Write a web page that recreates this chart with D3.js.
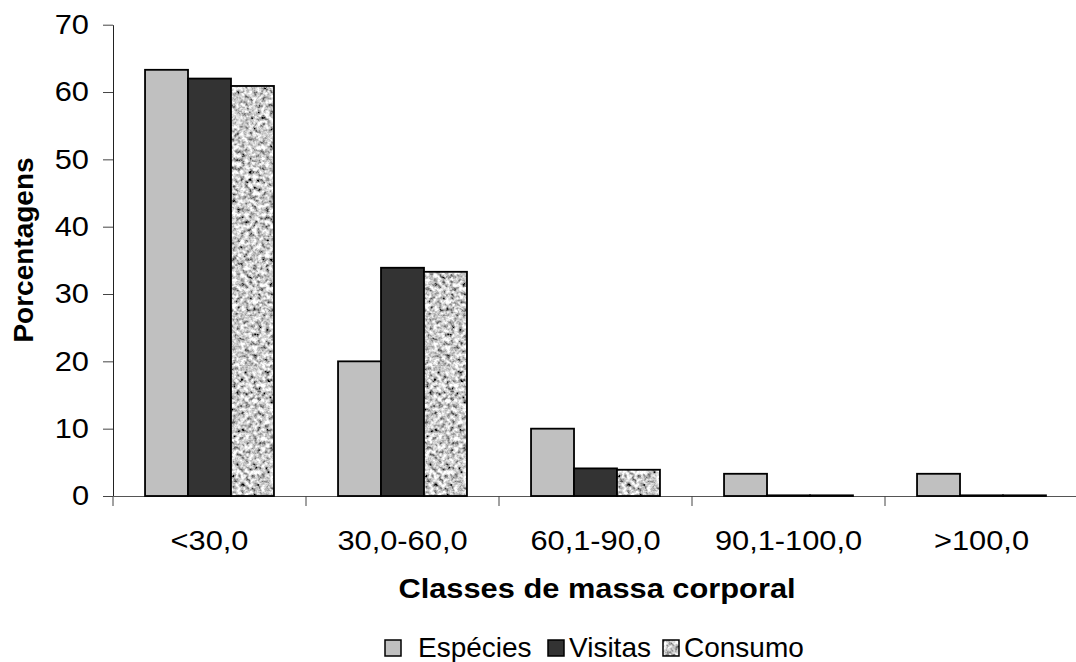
<!DOCTYPE html>
<html><head><meta charset="utf-8">
<script src="https://cdn.jsdelivr.net/npm/d3@7"></script>
<style>body{margin:0;background:#fff}svg{display:block}text{font-family:"Liberation Sans",Arial,sans-serif}</style>
</head><body><svg id="c" width="1076" height="662"></svg>
<script>
const categories = ["<30,0","30,0-60,0","60,1-90,0","90,1-100,0",">100,0"];
const seriesNames = ["Espécies","Visitas","Consumo"];
const especies = [63.3, 20.0, 10.0, 3.3, 3.3];
const visitas  = [62.0, 33.9, 4.1, 0.1, 0.1];
const consumo  = [60.9, 33.3, 3.9, 0.1, 0.1];
const yTicks = [0,10,20,30,40,50,60,70];

const svg = d3.select("#c");
const defs = svg.append("defs");
const f = defs.append("filter").attr("id","noise").attr("x",0).attr("y",0).attr("width","100%").attr("height","100%");
f.append("feTurbulence").attr("type","fractalNoise").attr("baseFrequency",0.24).attr("numOctaves",3).attr("seed",7).attr("result","t");
f.append("feColorMatrix").attr("in","t").attr("type","matrix")
 .attr("values","2.0 0 0 0 -0.4  2.0 0 0 0 -0.4  2.0 0 0 0 -0.4  0 0 0 0 1").attr("result","g");
f.append("feComposite").attr("in","g").attr("in2","SourceGraphic").attr("operator","in");

const x0 = d3.scaleBand().domain(categories).range([113,1078]).paddingInner(0.332).paddingOuter(0.166);
const x1 = d3.scaleBand().domain(seriesNames).range([0,x0.bandwidth()]);
const y = d3.scaleLinear().domain([0,70]).range([496,24.7]);
const fills = {"Espécies":"#c0c0c0","Visitas":"#333333","Consumo":"#a8a8a8"};
const vals = {"Espécies":especies,"Visitas":visitas,"Consumo":consumo};

function stretch(sel, k){
  sel.each(function(){ const w=this.getComputedTextLength(); d3.select(this).attr("textLength",w*k).attr("lengthAdjust","spacingAndGlyphs"); });
}

// axes
const yAx = svg.append("g").attr("transform","translate(113,0)")
  .call(d3.axisLeft(y).tickValues(yTicks).tickSize(10).tickPadding(14).tickSizeOuter(0));
yAx.select(".domain").attr("stroke","#222");
yAx.selectAll(".tick line").attr("stroke","#444");
yAx.selectAll("text").attr("font-size",28).attr("fill","#000").call(stretch,1.1);

const xAx = svg.append("g").attr("transform","translate(0,496)")
  .call(d3.axisBottom(x0).tickSize(0).tickPadding(0).tickSizeOuter(0));
xAx.select(".domain").attr("stroke","#555");
xAx.selectAll("text").attr("font-size",28).attr("fill","#000").attr("dy",0).attr("y",54).call(stretch,1.1);
// boundary ticks
const bounds = d3.range(categories.length+1).map(i=>x0.range()[0]+i*x0.step());
svg.append("g").selectAll("line").data(bounds).join("line")
  .attr("x1",d=>d).attr("x2",d=>d).attr("y1",496).attr("y2",506).attr("stroke","#444");

// bars
const groups = svg.append("g").selectAll("g").data(categories).join("g")
  .attr("transform",d=>`translate(${x0(d)},0)`);
seriesNames.forEach(s=>{
  groups.append("rect")
    .attr("x",x1(s)).attr("width",x1.bandwidth())
    .attr("y",(d,i)=>y(vals[s][i])).attr("height",(d,i)=>y(0)-y(vals[s][i]))
    .attr("fill",fills[s]).attr("filter",s==="Consumo"?"url(#noise)":null);
  groups.append("rect")
    .attr("x",x1(s)).attr("width",x1.bandwidth())
    .attr("y",(d,i)=>y(vals[s][i])).attr("height",(d,i)=>y(0)-y(vals[s][i]))
    .attr("fill","none").attr("stroke","#000").attr("stroke-width",1.8);
});

// titles
svg.append("text").attr("transform","translate(33,250) rotate(-90)").attr("text-anchor","middle")
  .attr("font-size",28).attr("font-weight","bold").text("Porcentagens");
svg.append("text").attr("x",597).attr("y",598).attr("text-anchor","middle")
  .attr("font-size",28).attr("font-weight","bold").text("Classes de massa corporal").call(stretch,1.1);

// legend
const legX = [385, 548, 663];
const legTX = [418, 569, 684];
const leg = svg.append("g");
seriesNames.forEach((s,i)=>{
  leg.append("rect").attr("x",legX[i]).attr("y",640).attr("width",16).attr("height",16)
    .attr("fill",fills[s]).attr("filter",s==="Consumo"?"url(#noise)":null);
  leg.append("rect").attr("x",legX[i]).attr("y",640).attr("width",16).attr("height",16)
    .attr("fill","none").attr("stroke","#000").attr("stroke-width",1.5);
  leg.append("text").attr("x",legTX[i]).attr("y",657).attr("font-size",28).text(s);
});
</script></body></html>
